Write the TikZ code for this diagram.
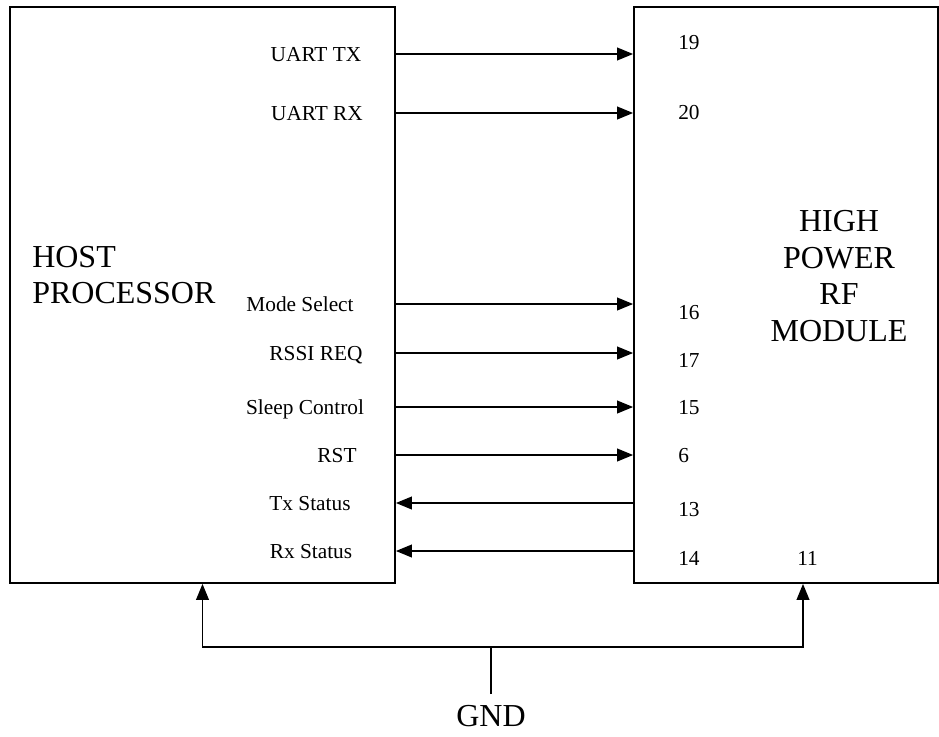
\documentclass[tikz,border=0pt]{standalone}
\usepackage{fontspec}
\setmainfont{Liberation Serif}
\usepackage{tikz}
\usetikzlibrary{positioning,arrows.meta,calc}

\begin{document}
\begin{tikzpicture}[
		x=0.75pt, y=-0.75pt,
		blk/.style={draw, line width=1.3pt, inner sep=0pt},
		sig/.style={font=\fontsize{16}{18}\selectfont, inner sep=0pt, anchor=base},
		pin/.style={font=\fontsize{16}{18}\selectfont, inner sep=0pt, anchor=west},
		big/.style={font=\fontsize{24}{27.5}\selectfont, inner sep=0pt},
		arr/.style={-{Triangle[length=12pt, width=9.5pt]}, line width=1.3pt}
		]
		\useasboundingbox (0,0) rectangle (939,736);
		% the two blocks
		\node[blk, minimum width=288.75pt, minimum height=432pt] (host) at (202.5,295) {};
		\node[blk, minimum width=228pt, minimum height=432pt] (rf) at (786,295) {};
		\node[big, anchor=west, align=left] (hostname) at (32,275) {HOST\\PROCESSOR};
		\node[big, align=center] (rfname) at (839,276) {HIGH\\POWER\\RF\\MODULE};
		% signal rows
		\coordinate (r1) at (0,54);
		\coordinate (r2) at (0,113);
		\coordinate (r3) at (0,304);
		\coordinate (r4) at (0,353);
		\coordinate (r5) at (0,407);
		\coordinate (r6) at (0,455);
		\coordinate (r7) at (0,503);
		\coordinate (r8) at (0,551);
		\node[sig] (txlab) at (316,61.5) {UART TX};
		\node[sig] (rxlab) at (317,120.5) {UART RX};
		\node[sig] (modelab) at (300,311.5) {Mode Select};
		\node[sig] (rssilab) at (316,360.5) {RSSI REQ};
		\node[sig] (sleeplab) at (305,414.5) {Sleep Control};
		\node[sig] (rstlab) at (337,462.5) {RST};
		\node[sig] (txstlab) at (310,510.5) {Tx Status};
		\node[sig] (rxstlab) at (311,558.5) {Rx Status};
		% module pin numbers
		\node[pin] (p19) at (678,43) {19};
		\node[pin] (p20) at (678,113) {20};
		\node[pin] (p16) at (678,313) {16};
		\node[pin] (p17) at (678,360) {17};
		\node[pin] (p15) at (678,408) {15};
		\node[pin] (p6) at (678,456) {6};
		\node[pin] (p13) at (678,510) {13};
		\node[pin] (p14) at (678,558) {14};
		\node[pin] (p11) at (797,558) {11};
		\draw[arr] (host.east |- r1) -- (rf.west |- r1);
		\draw[arr] (host.east |- r2) -- (rf.west |- r2);
		\draw[arr] (host.east |- r3) -- (rf.west |- r3);
		\draw[arr] (host.east |- r4) -- (rf.west |- r4);
		\draw[arr] (host.east |- r5) -- (rf.west |- r5);
		\draw[arr] (host.east |- r6) -- (rf.west |- r6);
		\draw[arr] (rf.west |- r7) -- (host.east |- r7);
		\draw[arr] (rf.west |- r8) -- (host.east |- r8);
		% ground
		\coordinate (stem) at (491,694);
		\node[big, anchor=north, yshift=-8pt] (gnd) at (stem) {GND};
		\coordinate (bus) at (491,647);
		\draw[line width=1.3pt] (stem) -- (bus);
		\draw[arr] (bus) -| (host.south);
		\draw[arr] (bus) -| ([xshift=12.75pt]rf.south);
	\end{tikzpicture}
\end{document}
